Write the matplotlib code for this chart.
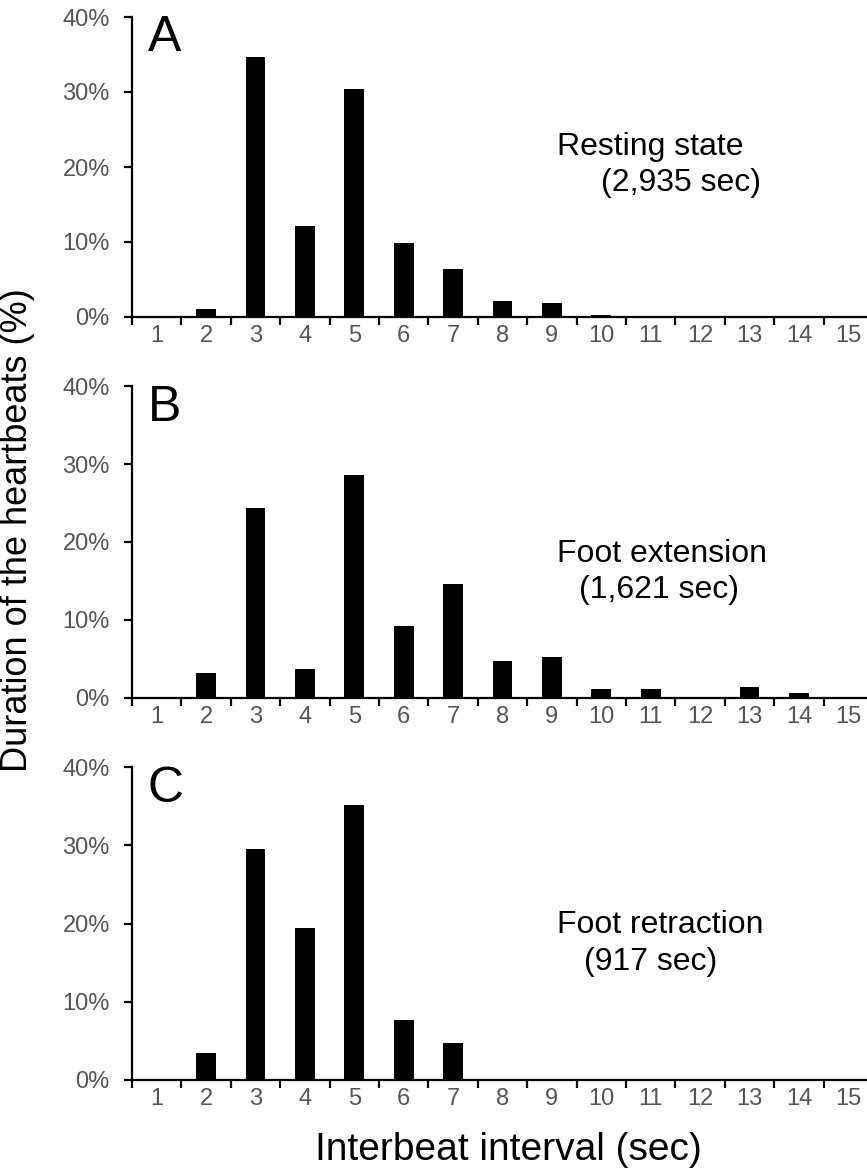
import numpy as np
import matplotlib.pyplot as plt
from matplotlib.ticker import FixedLocator, NullFormatter, FuncFormatter

plt.rcParams['font.family'] = ['Liberation Sans', 'DejaVu Sans']

# interbeat interval categories (sec)
intervals = np.arange(1, 16)
# percent of heartbeat duration per interval
resting = [0, 1.1, 34.6, 12.1, 30.4, 9.8, 6.4, 2.1, 1.9, 0.3, 0, 0, 0, 0, 0]
extension = [0, 3.2, 24.3, 3.7, 28.6, 9.2, 14.6, 4.7, 5.3, 1.2, 1.2, 0, 1.45, 0.7, 0]
retraction = [0, 3.5, 29.5, 19.4, 35.2, 7.7, 4.7, 0, 0, 0, 0, 0, 0, 0, 0]

letters = ['A', 'B', 'C']
states = [('Resting state', '(2,935 sec)'),
          ('Foot extension', '(1,621 sec)'),
          ('Foot retraction', '(917 sec)')]
series = [resting, extension, retraction]
yticks = [0, 10, 20, 30, 40]

fig = plt.figure(figsize=(8.67, 11.75), dpi=100)

# axes boxes in pixels (top, bottom)
W, H = 867, 1175
boxes = [(17, 317), (386, 698), (767, 1080)]
xmax = 0.5 + (W - 132) / 49.4
text_pos = [((9.1, 22.6), (10.0, 17.9)),
            ((9.1, 18.4), (9.55, 13.8)),
            ((9.1, 19.8), (9.65, 15.1))]

for i, (top, bot) in enumerate(boxes):
    ax = fig.add_axes([132 / W, 1 - bot / H, 1 - 132 / W, (bot - top) / H])
    ax.bar(intervals, series[i], width=0.4, color='black')
    ax.set_xlim(0.5, xmax)
    ax.set_ylim(0, 40)
    for s in ['top', 'right']:
        ax.spines[s].set_visible(False)
    for s in ['left', 'bottom']:
        ax.spines[s].set_linewidth(1.6)
    # ticks between categories, labels on categories
    ax.xaxis.set_major_locator(FixedLocator(np.arange(0.5, 15.6, 1.0)))
    ax.xaxis.set_major_formatter(NullFormatter())
    ax.xaxis.set_minor_locator(FixedLocator(intervals))
    ax.xaxis.set_minor_formatter(FuncFormatter(lambda v, p: '%d' % v))
    ax.tick_params(axis='x', which='major', direction='out', length=6, width=1.6)
    ax.tick_params(axis='x', which='minor', length=0, pad=6,
                   labelsize=17, labelcolor='#555555')
    ax.set_yticks(yticks)
    ax.set_yticklabels(['%d%%' % v for v in yticks])
    ax.tick_params(axis='y', direction='out', length=6, width=1.6, pad=10,
                   labelsize=17, labelcolor='#555555')
    ax.text(0.82, 35.5, letters[i], fontsize=36, va='baseline', ha='left')
    (x1, y1), (x2, y2) = text_pos[i]
    ax.text(x1, y1, states[i][0], fontsize=23, va='center', ha='left')
    ax.text(x2, y2, states[i][1], fontsize=23, va='center', ha='left')

fig.text(18 / W, 1 - 530 / H, 'Duration of the heartbeats (%)', rotation=90,
         fontsize=26, va='center', ha='center')
fig.text(508 / W, 1 - 1150 / H, 'Interbeat interval (sec)', fontsize=28,
         va='center', ha='center')

fig.savefig('out.png', dpi=100)
